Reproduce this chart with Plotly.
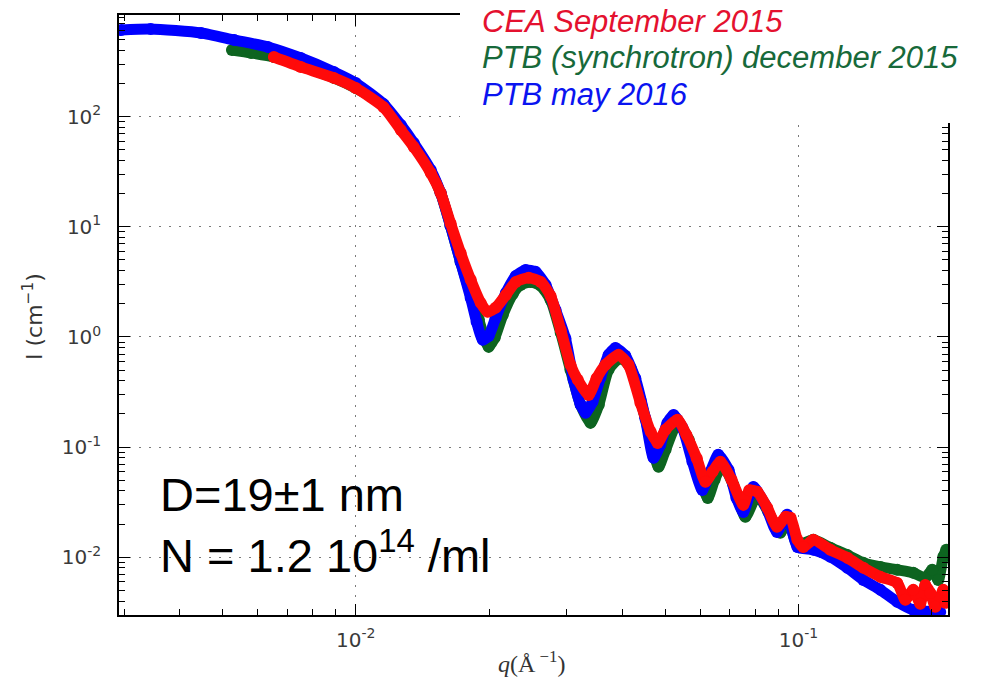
import plotly.graph_objects as go

# ---- data ----
q_blue = [0.00295, 0.00344, 0.00447, 0.00531, 0.00633, 0.00751, 0.00892, 0.0100, 0.01156, 0.01264,
          0.01352, 0.01477, 0.01555, 0.01637, 0.01725, 0.01818, 0.01875, 0.01936, 0.01996, 0.02070,
          0.02183, 0.02299, 0.02420, 0.02549, 0.02685, 0.02827, 0.02976, 0.03105, 0.03221, 0.03304,
          0.03427, 0.03570, 0.03725, 0.03860, 0.04064, 0.04281, 0.04511, 0.04707, 0.04876, 0.05058,
          0.05224, 0.05470, 0.05763, 0.06067, 0.06326, 0.06592, 0.06955, 0.07244, 0.07509, 0.07910,
          0.08415, 0.08947, 0.09434, 0.09949, 0.1081, 0.1181, 0.1290, 0.1402, 0.1532, 0.1672,
          0.1818, 0.2091]
I_blue = [612, 625, 575, 497, 429, 341, 255, 202, 130, 84.1,
          57.7, 32.8, 20.3, 10.2, 4.80, 2.26, 1.37, 0.942, 1.02, 1.49,
          2.51, 3.58, 4.06, 3.90, 2.97, 1.76, 0.971, 0.408, 0.242, 0.205,
          0.258, 0.426, 0.688, 0.796, 0.674, 0.421, 0.182, 0.0799, 0.105, 0.166,
          0.196, 0.150, 0.0735, 0.0409, 0.0597, 0.0851, 0.0621, 0.0346, 0.0258, 0.0435,
          0.0299, 0.0170, 0.0243, 0.0124, 0.0117, 0.0101, 0.00802, 0.00623, 0.00506, 0.00394,
          0.00333, 0.00319]

q_red = [0.00653, 0.00751, 0.00892, 0.0100, 0.01156, 0.01264, 0.01352, 0.01477, 0.01555, 0.01637,
         0.01725, 0.01818, 0.01915, 0.01986, 0.02070, 0.02183, 0.02299, 0.02459, 0.02618, 0.02755,
         0.02904, 0.03055, 0.03173, 0.03358, 0.03499, 0.03666, 0.03925, 0.04131, 0.04397, 0.04636,
         0.04806, 0.05010, 0.05333, 0.05585, 0.05893, 0.06164, 0.06397, 0.06665, 0.07063, 0.07509,
         0.07744, 0.08074, 0.08505, 0.08947, 0.09358, 0.09602, 0.09949, 0.1026, 0.1081, 0.1181,
         0.1290, 0.1402, 0.1532, 0.1672, 0.1744, 0.1818, 0.1885, 0.1935, 0.1987, 0.2039,
         0.2125, 0.2147]
I_red = [348, 283, 225, 182, 122, 75.7, 53.1, 30.8, 20.3, 10.8,
         5.79, 3.30, 2.04, 1.69, 1.84, 2.41, 3.16, 3.44, 3.16, 2.36,
         1.16, 0.559, 0.408, 0.298, 0.421, 0.559, 0.688, 0.559, 0.252, 0.138,
         0.109, 0.144, 0.177, 0.129, 0.0791, 0.0484, 0.0597, 0.0735, 0.0505, 0.0299,
         0.0406, 0.0393, 0.0281, 0.0189, 0.0233, 0.0228, 0.0144, 0.0124, 0.0144, 0.0117,
         0.00988, 0.00802, 0.00664, 0.00585, 0.00411, 0.00506, 0.00378, 0.00561, 0.00475, 0.00355,
         0.00506, 0.00386]

q_green = [0.00525, 0.00580, 0.00653, 0.00751, 0.00892, 0.0100, 0.01156, 0.01264, 0.01352, 0.01477,
           0.01555, 0.01637, 0.01725, 0.01818, 0.01897, 0.01956, 0.01996, 0.02060, 0.02148, 0.02263,
           0.02357, 0.02483, 0.02618, 0.02755, 0.02904, 0.03055, 0.03221, 0.03390, 0.03540, 0.03725,
           0.03963, 0.04178, 0.04397, 0.04636, 0.04831, 0.05010, 0.05333, 0.05651, 0.05944, 0.06240,
           0.06466, 0.06736, 0.07129, 0.07590, 0.08074, 0.08551, 0.09101, 0.09485, 0.09949, 0.1081,
           0.1181, 0.1290, 0.1402, 0.1532, 0.1672, 0.1818, 0.1935, 0.2006, 0.2070, 0.2125,
           0.2158]
I_green = [403, 379, 348, 288, 225, 182, 128, 78.9, 55.4, 31.5,
           20.3, 10.2, 4.80, 2.41, 1.43, 0.942, 0.813, 0.982, 1.58, 2.46,
           2.97, 3.16, 2.91, 2.17, 1.09, 0.504, 0.242, 0.166, 0.242, 0.504,
           0.646, 0.524, 0.269, 0.117, 0.0662, 0.0946, 0.166, 0.117, 0.0603, 0.0346,
           0.0505, 0.0691, 0.0455, 0.0233, 0.0369, 0.0258, 0.0167, 0.0219, 0.0130, 0.0144,
           0.0122, 0.0105, 0.00890, 0.00818, 0.00769, 0.00722, 0.00652, 0.00769, 0.00623, 0.0101,
           0.0117]

series_names = ["CEA September 2015", "PTB (synchrotron) december 2015", "PTB may 2016"]
legend_colors = ["#e4112f", "#17693a", "#0a14f0"]

x_major = [1e-2, 1e-1]
x_major_text = ["10<sup>-2</sup>", "10<sup>-1</sup>"]
y_major = [1e-2, 1e-1, 1e0, 1e1, 1e2]
y_major_text = ["10<sup>-2</sup>", "10<sup>-1</sup>", "10<sup>0</sup>", "10<sup>1</sup>", "10<sup>2</sup>"]

x_minor = [m * 10.0 ** e for e in (-3, -2, -1) for m in range(2, 10)]
y_minor = [m * 10.0 ** e for e in (-3, -2, -1, 0, 1, 2) for m in range(2, 10)]

fig = go.Figure()

def add_series(q, I, color):
    fig.add_trace(go.Scatter(
        x=q, y=I, mode="lines+markers",
        line=dict(color=color, width=11, shape="spline", smoothing=0.6),
        marker=dict(color=color, size=12),
        showlegend=False, hoverinfo="skip", cliponaxis=True,
    ))

add_series(q_green, I_green, "#0d6420")
add_series(q_blue, I_blue, "#0000ff")
add_series(q_red, I_red, "#ff0a0a")

axis_common = dict(
    type="log", showline=True, linecolor="black", linewidth=1.5, mirror="ticks",
    ticks="inside", ticklen=11, tickwidth=1.2, tickcolor="black",
    showgrid=True, gridcolor="#7a7a7a", gridwidth=1, griddash="2px,8px",
    zeroline=False, tickfont=dict(family="DejaVu Sans", size=20, color="#3a3a3a"),
    minor=dict(ticks="inside", ticklen=6, tickwidth=1, tickcolor="black", showgrid=False),
)

fig.update_xaxes(**axis_common, range=[-2.535, -0.662], tickmode="array",
                 tickvals=x_major, ticktext=x_major_text, ticklabelstandoff=6)
fig.update_xaxes(minor_tickvals=x_minor)
fig.update_yaxes(**axis_common, range=[-2.524, 2.923], tickmode="array",
                 tickvals=y_major, ticktext=y_major_text, ticklabelstandoff=12)
fig.update_yaxes(minor_tickvals=y_minor)

annotations = [
    dict(text="I (cm<sup>−1</sup>)", x=33, y=317, textangle=-90,
         font=dict(family="DejaVu Sans", size=22, color="#333")),
    dict(text="<i>q</i>(Å<sup> −1</sup>)", x=531, y=662,
         font=dict(family="Liberation Serif", size=24, color="#333")),
    dict(text="D=19±1 nm", x=158, y=494, xanchor="left",
         font=dict(family="Liberation Sans", size=47, color="black")),
    dict(text="N = 1.2 10<sup>14</sup> /ml", x=158, y=552, xanchor="left",
         font=dict(family="Liberation Sans", size=47, color="black")),
]
for i, (name, col) in enumerate(zip(series_names, legend_colors)):
    annotations.append(dict(text="<i>" + name + "</i>", x=480, y=21 + 37 * i, xanchor="left",
                            font=dict(family="Liberation Sans", size=31, color=col)))

W, H = 988, 685
L, R, T, B = 119, 40, 15, 70
pw, ph = W - L - R, H - T - B
ann_out = []
for a in annotations:
    a = dict(a)
    px, py = a.pop("x"), a.pop("y")
    a.update(xref="paper", yref="paper", x=(px - L) / pw, y=1 - (py - T) / ph,
             showarrow=False, yanchor="middle")
    a.setdefault("xanchor", "center")
    ann_out.append(a)

fig.update_layout(
    width=W, height=H, margin=dict(l=L, r=R, t=T, b=B),
    paper_bgcolor="white", plot_bgcolor="white",
    annotations=ann_out,
    shapes=[dict(type="rect", xref="paper", yref="paper", layer="above",
                 x0=(460 - L) / pw, x1=(W + 10 - L) / pw,
                 y0=1 - (123 - T) / ph, y1=1 + (T + 10) / ph,
                 fillcolor="white", line=dict(width=0))],
)

fig.write_html("out.html", config={"displayModeBar": False},
               post_script="document.body.style.margin='0';document.body.style.overflow='hidden';")
